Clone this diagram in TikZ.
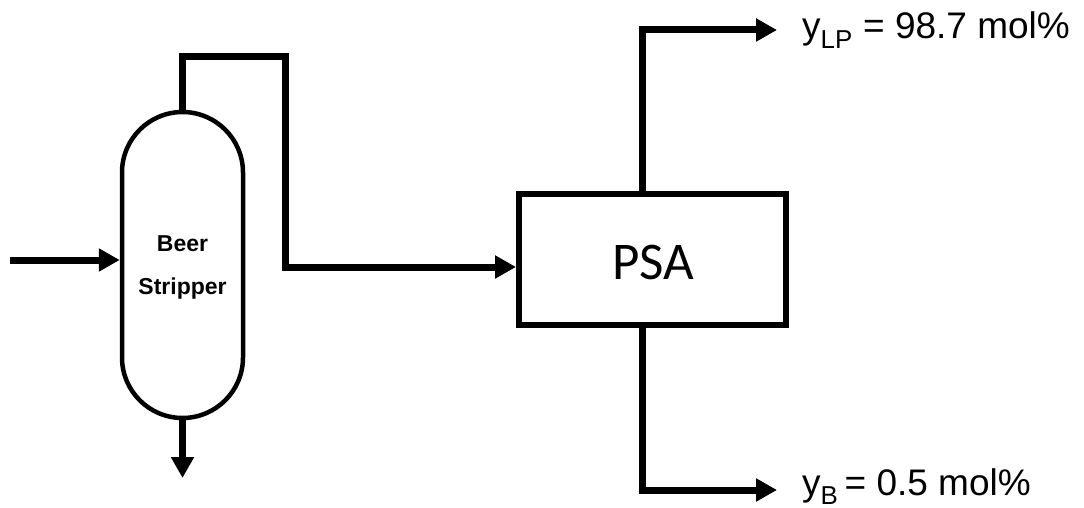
\documentclass[tikz,border=0pt]{standalone}
\usepackage{fontspec}
\setmainfont{Liberation Sans}
\newfontfamily\calib{Carlito}
\usetikzlibrary{arrows.meta}
\begin{document}
\begin{tikzpicture}[x=1pt,y=-1pt,
  pipe/.style={line width=7pt,-{Triangle[length=21pt,width=22pt]}},
  column/.style={draw,line width=4.5pt,minimum width=121pt,minimum height=306pt,rounded corners=60.5pt,inner sep=0pt},
  unit/.style={draw,line width=6pt,minimum width=267pt,minimum height=131pt,inner sep=0pt},
  lbl/.style={anchor=base west,font=\fontsize{37}{41}\selectfont,inner sep=0pt}]
\useasboundingbox (0,0) rectangle (1084,508);
\node[column] (col) at (182.5,265) {};
\node[align=center,font=\bfseries\fontsize{23}{43}\selectfont] (coltxt) at (182.5,267) {Beer\\Stripper};
\node[unit] (psa) at (652.5,259.5) {};
\node[font=\calib\fontsize{53}{58}\selectfont] (psatxt) at (653,262) {PSA};
\coordinate (feed) at (10,260);
\coordinate (bot) at (182.5,478);
\coordinate (turn) at (285,57);
\coordinate (lpend) at (777,30);
\coordinate (bend) at (777,490);
\node[lbl] (lp) at (802,39) {y\textsubscript{LP} = 98.7 mol\%};
\node[lbl] (lb) at (802,495) {y\textsubscript{B}\,= 0.5 mol\%};
\draw[pipe] (feed) -- (feed -| col.west);
\draw[pipe] (col.south) -- (bot);
\draw[pipe] (col.north) |- (turn) |- ([yshift=-7.5pt]psa.west);
\draw[pipe] ([xshift=-10.5pt]psa.north) |- (lpend);
\draw[pipe] ([xshift=-10.5pt]psa.south) |- (bend);
\end{tikzpicture}
\end{document}
